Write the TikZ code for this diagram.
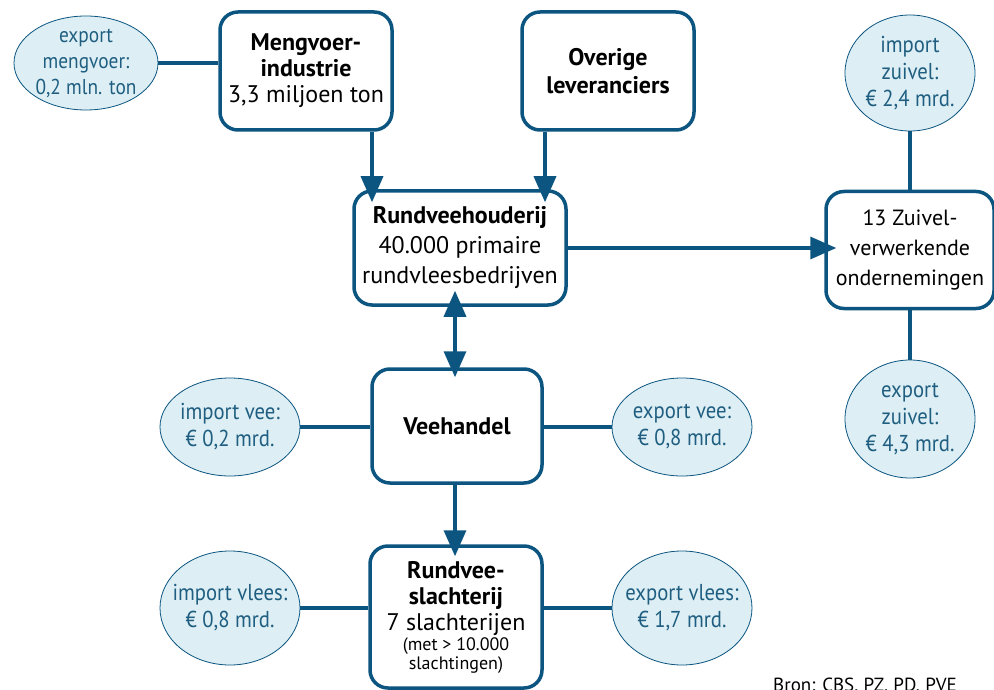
\documentclass[tikz,border=0pt]{standalone}
\usepackage{fontspec}
\setmainfont{PT Sans}
\newfontfamily\ellfont{PT Sans}[FakeStretch=0.9]
\usetikzlibrary{arrows.meta,shapes.geometric}
\definecolor{lineblue}{HTML}{0B5580}
\definecolor{ellfill}{HTML}{DDEFF5}
\definecolor{elltext}{HTML}{1F5E80}
\tikzset{
  boxnode/.style={draw=lineblue, line width=3.5pt, rounded corners=18pt, fill=white,
    align=center, font=\fontsize{24}{30}\selectfont, inner sep=0pt},
  ellnode/.style={ellipse, draw=lineblue, line width=0.8pt, fill=ellfill, inner sep=0pt},
  elltxt/.style={text=elltext, align=center, font=\ellfont\fontsize{23}{27}\selectfont, inner sep=0pt},
  conn/.style={draw=lineblue, line width=3.5pt},
  arr/.style={conn, -{Triangle[width=22pt,length=26pt]}},
}
\begin{document}
\begin{tikzpicture}[x=1pt,y=-1pt]
\clip (0,0) rectangle (994,690);
\fill[white] (0,0) rectangle (994,690);
% boxes
\node[boxnode, minimum width=172pt, minimum height=118pt,
  font=\fontsize{24}{26}\selectfont] (meng) at (306,71)
  {\textbf{Mengvoer-}\\\textbf{industrie}\\3,3 miljoen ton};
\node[boxnode, minimum width=172pt, minimum height=118pt,
  font=\fontsize{24}{28}\selectfont] (over) at (608,71)
  {\textbf{Overige}\\\textbf{leveranciers}};
\node[boxnode, minimum width=212pt, minimum height=114pt] (rund) at (460,248)
  {\textbf{Rundveehouderij}\\40.000 primaire\\rundvleesbedrijven};
\node[boxnode, minimum width=168pt, minimum height=117pt,
  font=\fontsize{22}{30}\selectfont] (zuiv) at (910,250)
  {13 Zuivel-\\verwerkende\\ondernemingen};
\node[boxnode, minimum width=170pt, minimum height=114pt] (veeh) at (457,426)
  {\textbf{Veehandel}};
\node[boxnode, minimum width=172pt, minimum height=142pt,
  font=\fontsize{24}{26}\selectfont] (slac) at (456,617)
  {\textbf{Rundvee-}\\\textbf{slachterij}\\7 slachterijen\\[-6pt]
   {\fontsize{18}{19}\selectfont (met > 10.000}\\[-7pt]{\fontsize{18}{19}\selectfont slachtingen)}};
% ellipses
\node[ellnode, minimum width=144pt, minimum height=94pt] (expm) at (86,63) {};
\node[elltxt, font=\ellfont\fontsize{21.5}{26}\selectfont] (expmt) at (expm) {export\\mengvoer:\\0,2 mln. ton};
\node[ellnode, minimum width=130pt, minimum height=116pt] (impz) at (910,73) {};
\node[elltxt] (impzt) at (impz) {import\\zuivel:\\€ 2,4 mrd.};
\node[ellnode, minimum width=130pt, minimum height=118pt] (expz) at (910,419) {};
\node[elltxt] (expzt) at (expz) {export\\zuivel:\\€ 4,3 mrd.};
\node[ellnode, minimum width=140pt, minimum height=98pt] (impv) at (230,427) {};
\node[elltxt] (impvt) at (impv) {import vee:\\€ 0,2 mrd.};
\node[ellnode, minimum width=140pt, minimum height=98pt] (expv) at (682,427) {};
\node[elltxt] (expvt) at (expv) {export vee:\\€ 0,8 mrd.};
\node[ellnode, minimum width=140pt, minimum height=114pt] (impl) at (230,608) {};
\node[elltxt] (implt) at (impl) {import vlees:\\€ 0,8 mrd.};
\node[ellnode, minimum width=140pt, minimum height=114pt] (expl) at (682,608) {};
\node[elltxt] (explt) at (expl) {export vlees:\\€ 1,7 mrd.};
% source
\node[anchor=north west, font=\fontsize{19}{22}\selectfont, inner sep=0pt] (bron) at (773,678)
  {Bron: CBS, PZ, PD, PVE};
% connectors
\draw[conn] (expm.east) -- (meng.west |- expm.east);
\draw[conn] (impz.south) -- (zuiv.north);
\draw[conn] (zuiv.south) -- (expz.north);
\draw[conn] (impv.east) -- (veeh.west |- impv.east);
\draw[conn] (veeh.east |- expv.west) -- (expv.west);
\draw[conn] (impl.east) -- (slac.west |- impl.east);
\draw[conn] (slac.east |- expl.west) -- (expl.west);
\draw[arr, shorten >=-13pt] (meng.south -| 372,0) -- (rund.north -| 372,0);
\draw[arr, shorten >=-13pt] (over.south -| 545,0) -- (rund.north -| 545,0);
\draw[arr, shorten >=-12pt] (rund.east) -- (zuiv.west |- rund.east);
\draw[arr, {Triangle[width=22pt,length=26pt]}-{Triangle[width=22pt,length=26pt]}, shorten >=-10pt, shorten <=-16pt]
  (rund.south -| 455,0) -- (veeh.north -| 455,0);
\draw[arr, shorten >=-12pt] (veeh.south -| 455,0) -- (slac.north -| 455,0);
\end{tikzpicture}
\end{document}
